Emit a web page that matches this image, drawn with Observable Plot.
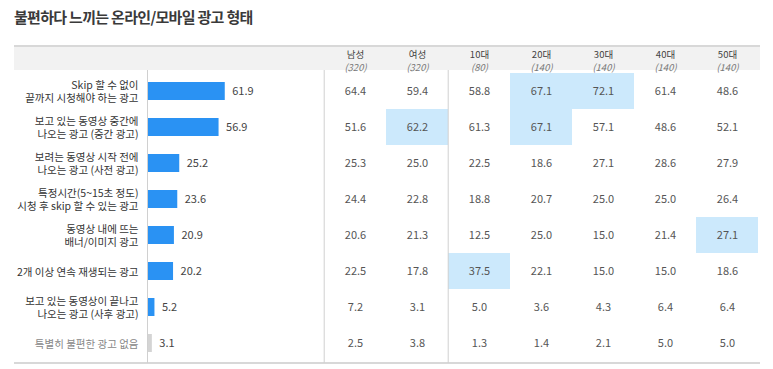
<!DOCTYPE html>
<html><head><meta charset="utf-8">
<script src="https://cdn.jsdelivr.net/npm/d3@7"></script>
<script src="https://cdn.jsdelivr.net/npm/@observablehq/plot@0.6"></script>
<style>
body{margin:0;background:#fff;font-family:"Noto Sans CJK KR",sans-serif;}
#title{height:34px;line-height:34px;padding-left:14px;font-size:15px;font-weight:700;color:#3a3a3a;letter-spacing:-0.7px;}
#wrap{position:relative;width:773px;height:335px;}
#wrap svg{position:absolute;left:0;top:0;}
.band{position:absolute;left:14px;width:746px;top:11px;height:25px;background:#f2f2f2;border-top:2px solid #d8d8d8;box-sizing:border-box}
.bottom{position:absolute;left:14px;width:746px;top:328px;height:2px;background:#d8d8d8}
g[aria-label="cat-labels"] text{letter-spacing:-0.9px}
g[aria-label="group-labels"] text{letter-spacing:-1px}
</style>
</head><body>
<div id="title">불편하다 느끼는 온라인/모바일 광고 형태</div>
<div id="wrap"><div class="band"></div><div class="bottom"></div></div>
<script>
const categories = [
  "Skip 할 수 없이\n끝까지 시청해야 하는 광고",
  "보고 있는 동영상 중간에\n나오는 광고 (중간 광고)",
  "보려는 동영상 시작 전에\n나오는 광고 (사전 광고)",
  "특정시간(5~15초 정도)\n시청 후 skip 할 수 있는 광고",
  "동영상 내에 뜨는\n배너/이미지 광고",
  "2개 이상 연속 재생되는 광고",
  "보고 있는 동영상이 끝나고\n나오는 광고 (사후 광고)",
  "특별히 불편한 광고 없음"
];
const totals = [61.9, 56.9, 25.2, 23.6, 20.9, 20.2, 5.2, 3.1];
const groups = ["남성","여성","10대","20대","30대","40대","50대"];
const sampleSizes = [320,320,80,140,140,140,140];
const male   = [64.4,51.6,25.3,24.4,20.6,22.5,7.2,2.5];
const female = [59.4,62.2,25.0,22.8,21.3,17.8,3.1,3.8];
const age10  = [58.8,61.3,22.5,18.8,12.5,37.5,5.0,1.3];
const age20  = [67.1,67.1,18.6,20.7,25.0,22.1,3.6,1.4];
const age30  = [72.1,57.1,27.1,25.0,15.0,15.0,4.3,2.1];
const age40  = [61.4,48.6,28.6,25.0,21.4,15.0,6.4,5.0];
const age50  = [48.6,52.1,27.9,26.4,27.1,18.6,6.4,5.0];
const highlights = [["20대","30대"],["여성","20대"],[],[],["50대"],["10대"],[],[]];
const noneCategory = "특별히 불편한 광고 없음";

const series = [male, female, age10, age20, age30, age40, age50];
const barData = categories.map((c, i) => ({category: c, value: totals[i], none: c === noneCategory}));
const tableData = [];
categories.forEach((c, i) => groups.forEach((g, j) => tableData.push({category: c, group: g, value: series[j][i], hl: highlights[i].includes(g)})));
const hlData = tableData.filter(d => d.hl);

const W = 773, H = 335, mTop = 38, mBottom = 7;
const yOpts = {type: "band", domain: categories, padding: 0, axis: null};
const baseStyle = {fontFamily: '"Noto Sans CJK KR", sans-serif', background: "transparent", overflow: "visible"};

const bars = Plot.plot({
  width: 322, height: H, marginLeft: 148, marginRight: 50, marginTop: mTop, marginBottom: mBottom,
  x: {domain: [0, 100], axis: null}, y: yOpts, style: baseStyle,
  marks: [
    Plot.barX(barData, {x: "value", y: "category", fill: d => d.none ? "#d4d4d4" : "#2a92f3", insetTop: 9, insetBottom: 9}),
    Plot.ruleX([0], {stroke: "#d0d0d0", dx: -1, insetTop: -2, insetBottom: -1}),
    Plot.text(barData, {x: "value", y: "category", text: d => d.value.toFixed(1), textAnchor: "start", dx: 7, fill: "#444", fontSize: 11}),
    Plot.text(barData, {y: "category", frameAnchor: "left", dx: -10, textAnchor: "end", text: "category", lineHeight: 1.2, fontSize: 10.5, fill: d => d.none ? "#888" : "#333", ariaLabel: "cat-labels"})
  ]
});

const plotL = 322, plotR = 760;
const bw = (plotR - plotL) / groups.length;
const table = Plot.plot({
  width: W, height: H, marginLeft: plotL, marginRight: W - plotR, marginTop: mTop, marginBottom: mBottom,
  x: {type: "band", domain: groups, padding: 0, axis: null}, y: yOpts, style: baseStyle,
  marks: [
    Plot.cell(hlData, {x: "group", y: "category", fill: "#cce9fc", inset: 0}),
    Plot.ruleX([groups[0], groups[2]], {dx: -bw / 2, stroke: "#d0d0d0", insetTop: -2, insetBottom: -1}),
    Plot.text(tableData, {x: "group", y: "category", text: d => d.value.toFixed(1), fill: "#555", fontSize: 11}),
    Plot.text(groups, {x: d => d, text: d => d, frameAnchor: "top", dy: -21.5, fill: "#444", fontSize: 9.5, ariaLabel: "group-labels"}),
    Plot.text(groups, {x: d => d, text: (d, i) => `(${sampleSizes[i]})`, frameAnchor: "top", dy: -8.5, fill: "#777", fontSize: 9.5, fontStyle: "italic"})
  ]
});

const wrap = document.getElementById("wrap");
wrap.appendChild(bars);
wrap.appendChild(table);
</script>
</body></html>
